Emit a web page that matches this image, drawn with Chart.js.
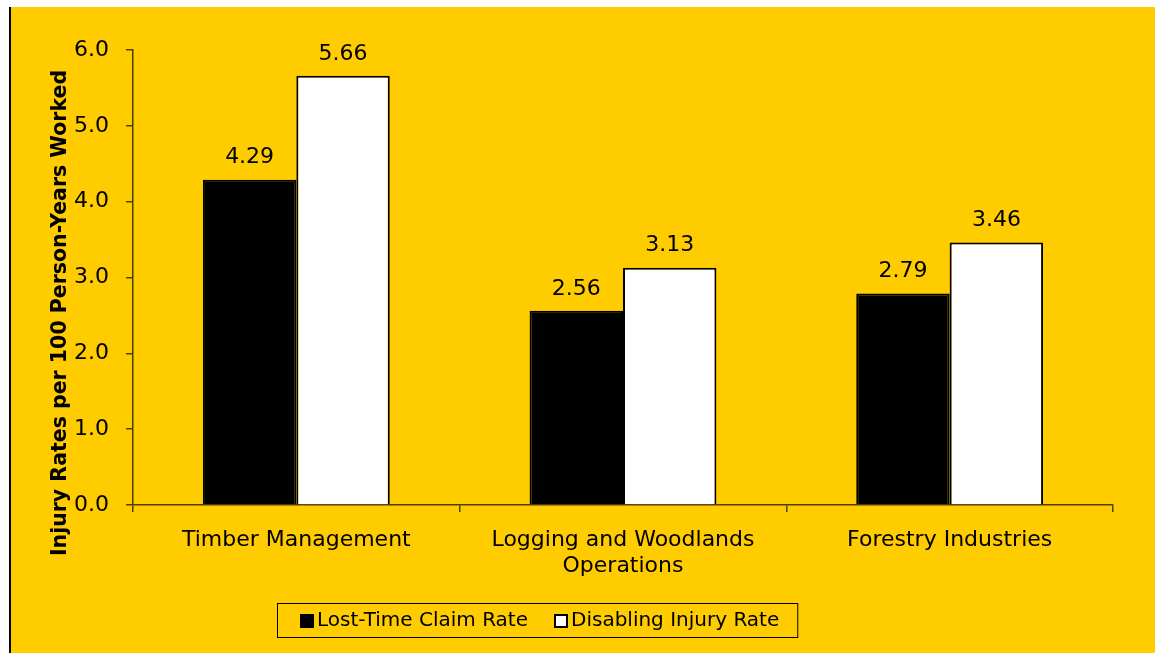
<!DOCTYPE html>
<html>
<head>
<meta charset="utf-8">
<script src="https://cdn.jsdelivr.net/npm/chart.js@4.4.1/dist/chart.umd.min.js"></script>
<style>
  html, body { margin: 0; padding: 0; background: #ffffff; }
  #wrap { width: 1155px; height: 653px; position: relative; }
</style>
</head>
<body>
<div id="wrap"><canvas id="c" width="1155" height="653"></canvas></div>
<script>
// ---- data ----
const categories = ['Timber Management', ['Logging and Woodlands', 'Operations'], 'Forestry Industries'];
const lostTimeClaimRate = [4.29, 2.56, 2.79];
const disablingInjuryRate = [5.66, 3.13, 3.46];
const seriesNames = ['Lost-Time Claim Rate', 'Disabling Injury Rate'];
const yTitle = 'Injury Rates per 100 Person-Years Worked';
const yMin = 0, yMax = 6, yStep = 1;

const YELLOW = '#FFCC00';
const AXIS = '#4f4100';
const FONT = 'DejaVu Sans';

const backgroundPlugin = {
  id: 'bg',
  beforeDraw(chart) {
    const ctx = chart.ctx;
    ctx.save();
    ctx.fillStyle = '#ffffff';
    ctx.fillRect(0, 0, chart.width, chart.height);
    ctx.fillStyle = YELLOW;
    ctx.fillRect(11, 7, chart.width - 11, chart.height - 7);
    ctx.fillStyle = '#000000';
    ctx.fillRect(9, 7, 2, chart.height - 7);
    ctx.restore();
  }
};

const valueLabelPlugin = {
  id: 'valueLabels',
  afterDatasetsDraw(chart) {
    const ctx = chart.ctx;
    ctx.save();
    ctx.font = '22px "' + FONT + '"';
    ctx.fillStyle = '#000000';
    ctx.textAlign = 'center';
    ctx.textBaseline = 'middle';
    chart.data.datasets.forEach((ds, i) => {
      const meta = chart.getDatasetMeta(i);
      meta.data.forEach((el, j) => {
        ctx.fillText(Number(ds.data[j]).toFixed(2), el.x, el.y - 22);
      });
    });
    ctx.restore();
  }
};

const yTitlePlugin = {
  id: 'yTitle',
  afterDraw(chart) {
    const ctx = chart.ctx;
    ctx.save();
    ctx.font = 'bold 20.5px "' + FONT + '"';
    ctx.fillStyle = '#000000';
    ctx.textAlign = 'center';
    ctx.textBaseline = 'middle';
    ctx.translate(61, 313);
    ctx.rotate(-Math.PI / 2);
    ctx.fillText(yTitle, 0, 0);
    ctx.restore();
  }
};

const legendPlugin = {
  id: 'boxLegend',
  afterDraw(chart) {
    const ctx = chart.ctx;
    ctx.save();
    ctx.font = '20px "' + FONT + '"';
    ctx.textBaseline = 'middle';
    ctx.textAlign = 'left';
    const sq = 14, gap = 3, spacing = 26;
    const items = chart.data.datasets.map(ds => ({
      text: ds.label, fill: ds.backgroundColor, w: ctx.measureText(ds.label).width
    }));
    let total = 0;
    items.forEach((it, k) => { total += sq + gap + it.w + (k < items.length - 1 ? spacing : 0); });
    const cx = 540, cy = 621;
    let x = Math.round(cx - total / 2);
    const startX = x;
    items.forEach(it => {
      ctx.fillStyle = it.fill;
      ctx.fillRect(x, cy - sq / 2, sq, sq);
      ctx.strokeStyle = '#000000';
      ctx.lineWidth = 2;
      ctx.strokeRect(x + 1, cy - sq / 2 + 1, sq - 2, sq - 2);
      ctx.fillStyle = '#000000';
      ctx.fillText(it.text, x + sq + gap, cy);
      x += sq + gap + it.w + spacing;
    });
    const endX = x - spacing;
    ctx.strokeStyle = '#000000';
    ctx.lineWidth = 1;
    ctx.strokeRect(startX - 23 + 0.5, 603.5, (endX + 18) - (startX - 23), 34);
    ctx.restore();
  }
};

new Chart(document.getElementById('c'), {
  type: 'bar',
  data: {
    labels: categories,
    datasets: [
      { label: seriesNames[0], data: lostTimeClaimRate, backgroundColor: '#000000', borderColor: '#000000', borderWidth: 2 },
      { label: seriesNames[1], data: disablingInjuryRate, backgroundColor: '#ffffff', borderColor: '#000000', borderWidth: 2 }
    ]
  },
  options: {
    responsive: false,
    animation: false,
    devicePixelRatio: 1,
    layout: { padding: { left: 10, top: 50, right: 42, bottom: 0 } },
    datasets: { bar: { categoryPercentage: 0.572, barPercentage: 1.0 } },
    plugins: {
      legend: { display: false },
      tooltip: { enabled: false },
      title: { display: false }
    },
    scales: {
      x: {
        grid: { display: true, drawOnChartArea: false, drawTicks: true, tickLength: 7, color: AXIS, lineWidth: 1.5, offset: true },
        border: { display: true, color: AXIS, width: 1.5 },
        ticks: { color: '#000000', font: { family: FONT, size: 22 }, padding: 15, maxRotation: 0, autoSkip: false },
        afterFit(scale) { scale.height = 148; }
      },
      y: {
        min: yMin, max: yMax,
        grid: { display: true, drawOnChartArea: false, drawTicks: true, tickLength: 7, color: AXIS, lineWidth: 1.5 },
        border: { display: true, color: AXIS, width: 1.5 },
        ticks: { stepSize: yStep, color: '#000000', font: { family: FONT, size: 22 }, padding: 17,
                 callback: v => Number(v).toFixed(1) },
        afterFit(scale) { scale.width = 123; }
      }
    }
  },
  plugins: [backgroundPlugin, valueLabelPlugin, yTitlePlugin, legendPlugin]
});
</script>
</body>
</html>
